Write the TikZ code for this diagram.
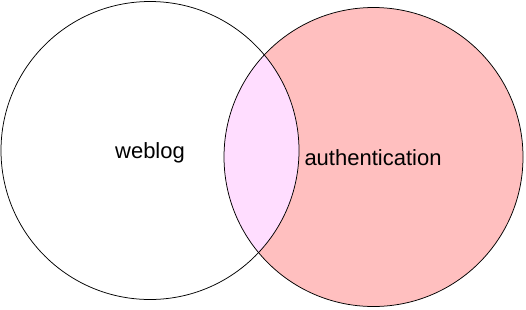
\documentclass[tikz,border=0pt]{standalone}
\usepackage{fontspec}
\setmainfont{Liberation Sans}
\usepackage{tikz}
\definecolor{ink}{HTML}{000000}
\definecolor{authfill}{HTML}{FFBFBF}
\definecolor{lensfill}{HTML}{FFDDFF}

\begin{document}
\begin{tikzpicture}[
  x=1pt,y=-1pt,
  font=\fontsize{22}{26}\selectfont,
  ring/.style={draw=ink,line width=0.75pt},
  lbl/.style={anchor=base,inner sep=0pt,text=ink}]
  \useasboundingbox (0,0) rectangle (526,309);
  \coordinate (blogc) at (150,150.5);
  \coordinate (authc) at (373.5,157);
  % fills first, strokes on top
  \fill[white] (blogc) circle [radius=149];
  \fill[authfill] (authc) circle [radius=149.5];
  \begin{scope}
    \clip (blogc) circle [radius=149];
    \fill[lensfill] (authc) circle [radius=149.5];
  \end{scope}
  \draw[ring] (blogc) circle [radius=149];
  \draw[ring] (authc) circle [radius=149.5];
  \node[lbl] (blog) at (150,158.5) {weblog};
  \node[lbl] (auth) at (373,165.5) {authentication};
\end{tikzpicture}
\end{document}
